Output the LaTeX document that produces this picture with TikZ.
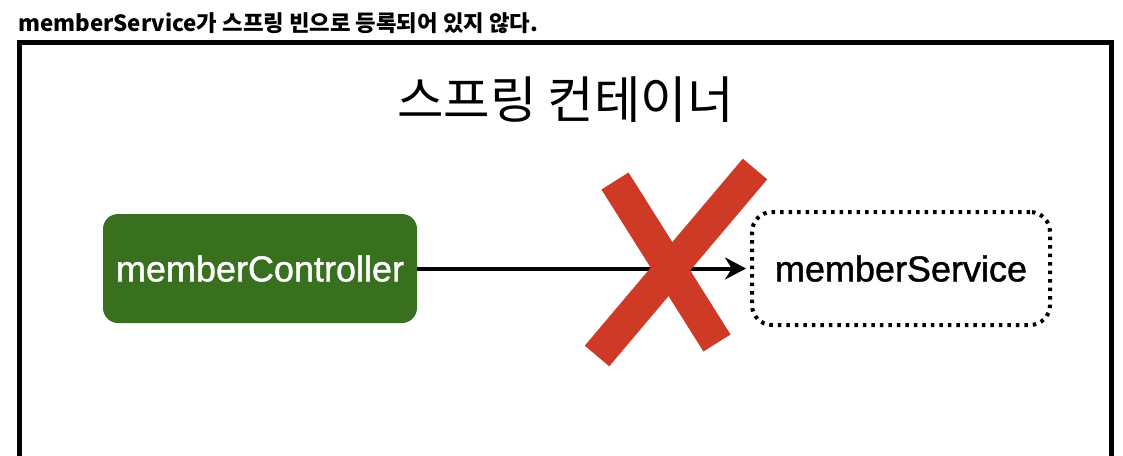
\documentclass[tikz,border=0pt]{standalone}
\usepackage{fontspec}
\setmainfont{Liberation Sans}
\newfontfamily\kr{Noto Sans CJK KR}
\newfontfamily\beanfont{Liberation Sans}[FakeBold=1.2]
\usetikzlibrary{arrows.meta}
\definecolor{beangreen}{RGB}{56,112,32}
\definecolor{crossred}{RGB}{206,58,38}

\begin{document}
\begin{tikzpicture}[x=1pt,y=-1pt,
    bean/.style={rounded corners=15pt, minimum width=314pt, minimum height=109pt,
      inner sep=0pt, font=\beanfont\fontsize{36}{40}\selectfont},
    nobean/.style={bean, rounded corners=20pt, minimum width=298pt, minimum height=113pt,
      draw, line width=4pt, dash pattern=on 3.5pt off 5pt},
    stroke/.style={crossred, line width=32pt, line cap=butt}]
  \useasboundingbox (0,0) rectangle (1123,455);
  \clip (0,0) rectangle (1123,455);

  % container
  \draw[line width=5pt] (19.5,470) -- (19.5,42.5) -- (1111.5,42.5) -- (1111.5,470);

  % labels
  \node[anchor=base west, inner sep=0pt, font=\kr\bfseries\fontsize{22.3}{25}\selectfont]
    (title) at (18,31) {memberService가 스프링 빈으로 등록되어 있지 않다.};
  \node[anchor=base, inner sep=0pt, font=\kr\fontsize{50.5}{54}\selectfont]
    (heading) at (565.5,118) {스프링 컨테이너};

  % beans
  \node[bean, fill=beangreen, text=white] (ctrl) at (260,268.5) {memberController};
  \node[nobean] (svc) at (901,268.5) {memberService};

  % dependency
  \draw[line width=4pt, -{Stealth[length=21pt,width=22pt]}, shorten >=4pt] (ctrl) -- (svc);

  % cross
  \draw[stroke] (615,181) -- (717,343);
  \draw[stroke] (755,169) -- (597,356);
\end{tikzpicture}
\end{document}
